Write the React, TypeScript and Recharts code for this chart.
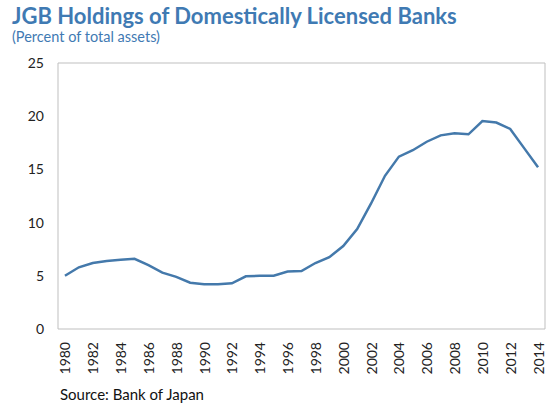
import React from 'react'
import { LineChart, Line, XAxis, YAxis, ReferenceArea } from 'recharts'

const years = [
  1980, 1981, 1982, 1983, 1984, 1985, 1986, 1987, 1988, 1989,
  1990, 1991, 1992, 1993, 1994, 1995, 1996, 1997, 1998, 1999,
  2000, 2001, 2002, 2003, 2004, 2005, 2006, 2007, 2008, 2009,
  2010, 2011, 2012, 2013, 2014,
]

const jgbShare = [
  5.0, 5.8, 6.2, 6.4, 6.5, 6.6, 6.0, 5.3, 4.9, 4.35,
  4.2, 4.2, 4.3, 4.95, 5.0, 5.0, 5.4, 5.45, 6.2, 6.75,
  7.8, 9.4, 11.8, 14.4, 16.2, 16.8, 17.6, 18.2, 18.4, 18.3,
  19.55, 19.4, 18.8, 17.0, 15.2,
]

const yearLabels = [
  1980, 1982, 1984, 1986, 1988, 1990, 1992, 1994, 1996,
  1998, 2000, 2002, 2004, 2006, 2008, 2010, 2012, 2014,
]

// tick marks sit between categories (Excel style)
const tickMarks = [
  1981.5, 1983.5, 1985.5, 1987.5, 1989.5, 1991.5, 1993.5, 1995.5, 1997.5,
  1999.5, 2001.5, 2003.5, 2005.5, 2007.5, 2009.5, 2011.5, 2013.5,
]

const yTicks = [0, 5, 10, 15, 20, 25]

const data = years.map((year, i) => ({ year, value: jgbShare[i] }))

const FONT = 'Lato, "Liberation Sans", sans-serif'
const BLUE = '#3f7ab3'

const YearTick = ({ x, y, payload }: any) => (
  <text
    x={x}
    y={y}
    transform={`rotate(-90 ${x} ${y})`}
    textAnchor="end"
    dominantBaseline="central"
    fontSize={14}
    fontFamily={FONT}
    fill="#222"
  >
    {payload.value}
  </text>
)

export default function App() {
  return (
    <div style={{ position: 'absolute', left: 0, top: 0, width: 546, height: 404, background: '#fff', fontFamily: FONT }}>
      <div style={{ position: 'absolute', left: 12, top: 2, fontSize: 22, fontWeight: 700, color: BLUE, whiteSpace: 'nowrap' }}>
        JGB Holdings of Domestically Licensed Banks
      </div>
      <div style={{ position: 'absolute', left: 12, top: 28, fontSize: 14.5, color: BLUE, whiteSpace: 'nowrap' }}>
        (Percent of total assets)
      </div>
      <LineChart width={546} height={404} data={data} margin={{ top: 63, right: 1, bottom: 0, left: 0 }}>
        <XAxis
          dataKey="year"
          type="number"
          domain={[1979.5, 2014.5]}
          allowDataOverflow
          ticks={yearLabels}
          interval={0}
          axisLine={false}
          tickLine={false}
          tickSize={0}
          tickMargin={13}
          height={75}
          tick={<YearTick />}
        />
        <XAxis
          xAxisId="tk"
          type="number"
          domain={[1979.5, 2014.5]}
          allowDataOverflow
          ticks={tickMarks}
          interval={0}
          mirror
          axisLine={false}
          tickLine={{ stroke: '#bfbfbf' }}
          tickSize={4}
          tickFormatter={() => ''}
          height={10}
        />
        <YAxis
          domain={[0, 25]}
          ticks={yTicks}
          interval={0}
          width={58}
          axisLine={false}
          tickLine={false}
          tickSize={0}
          tickMargin={14}
          tick={{ fontSize: 14, fill: '#222', fontFamily: FONT }}
        />
        <ReferenceArea
          x1={1979.5}
          x2={2014.5}
          y1={0}
          y2={25}
          fill="none"
          stroke="#bfbfbf"
          strokeWidth={1}
          ifOverflow="visible"
        />
        <Line
          type="linear"
          dataKey="value"
          stroke="#4479ab"
          strokeWidth={2.5}
          dot={false}
          isAnimationActive={false}
        />
      </LineChart>
      <div style={{ position: 'absolute', left: 60, top: 385, fontSize: 15, color: '#111', whiteSpace: 'nowrap' }}>
        Source: Bank of Japan
      </div>
    </div>
  )
}
